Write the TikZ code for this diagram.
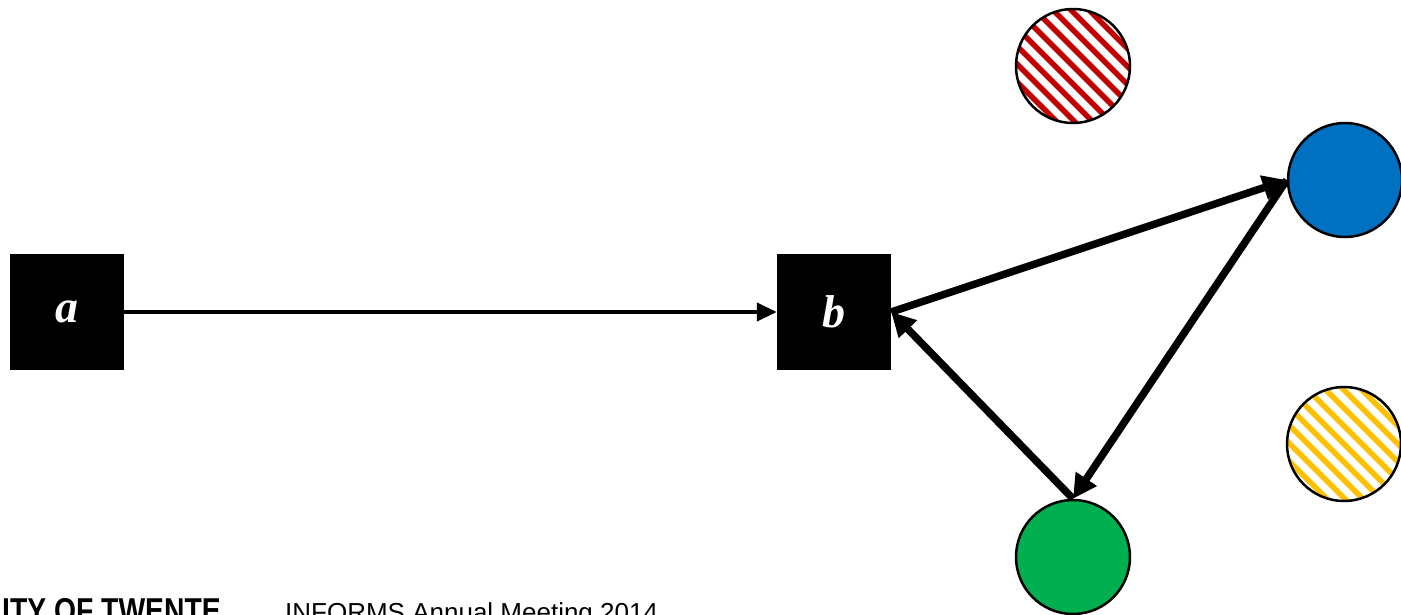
\documentclass[tikz,border=0pt]{standalone}
\usepackage{fontspec}
\setmainfont{Liberation Serif}
\newfontfamily\footfont{Liberation Sans}
\newfontfamily\univfont[FakeStretch=0.82]{Liberation Sans}
\usetikzlibrary{arrows.meta,calc}
\definecolor{nodeblue}{HTML}{0070C0}
\definecolor{nodegreen}{HTML}{00B050}
\definecolor{stripered}{HTML}{C00000}
\definecolor{stripeyellow}{HTML}{FFC000}
\tikzset{
  sqbox/.style={fill=black, minimum width=114pt, minimum height=116pt, inner sep=0pt,
                text=white, font=\fontsize{46}{46}\selectfont\bfseries\itshape},
  disc/.style={circle, draw=black, line width=2.5pt, minimum size=114pt, inner sep=0pt},
  thinarrow/.style={line width=4pt, -{Triangle[length=20pt,width=18pt]}},
  thickarrow/.style={line width=7.5pt, -{Triangle[length=24pt,width=24pt]}},
}
\newcommand{\hatchdisc}[2]{% #1 node name, #2 stripe colour
  \begin{scope}
    \clip (#1.center) circle (57pt);
    \foreach \k in {-10,...,10}
      \draw[#2, line width=5.5pt] ($(#1.center)+(\k*18-80,-80)$) -- ++(160,160);
  \end{scope}
  \draw[black, line width=2.5pt] (#1.center) circle (57pt);
}
\begin{document}
\begin{tikzpicture}[x=1pt, y=-1pt]
  \useasboundingbox (0,0) rectangle (1401,614);
  \clip (0,0) rectangle (1401,614);

  % the two square nodes
  \node[sqbox] (a) at (67,312) {a};
  \node[sqbox] (b) at (834,312) {b};

  % the four round nodes
  \node[disc, fill=nodeblue] (blue) at (1345,180) {};
  \node[disc, fill=nodegreen] (green) at (1073,557) {};
  \node[disc, draw=none] (red) at (1073,66) {};
  \node[disc, draw=none] (yellow) at (1344,444) {};
  \hatchdisc{red}{stripered}
  \hatchdisc{yellow}{stripeyellow}

  % connectors
  \draw[thinarrow] (a.east) -- (b.west);
  \draw[thickarrow] (b.east) -- (blue.west);
  \draw[thickarrow] (blue.west) -- (green.north);
  \draw[thickarrow] (green.north) -- (b.east);

  % footer
  \node[anchor=base west, inner sep=0pt, font=\univfont\bfseries\fontsize{34.5}{34.5}\selectfont] (univ) at (2,622) {ITY OF TWENTE};
  \node[anchor=base west, inner sep=0pt, font=\footfont\fontsize{26}{26}\selectfont] (conf) at (285,621) {INFORMS Annual Meeting 2014};
\end{tikzpicture}
\end{document}
